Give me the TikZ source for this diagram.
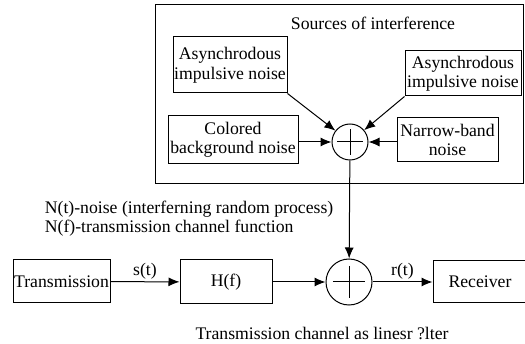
\documentclass[tikz,border=0pt]{standalone}
\usepackage{fontspec}
\setmainfont{Liberation Serif}
\usetikzlibrary{arrows.meta,calc,positioning}

\begin{document}
\begin{tikzpicture}[
    x=1pt, y=-1pt,
    >={Latex[length=11pt,width=9pt]},
    font=\fontsize{17.7}{19.5}\selectfont,
    every path/.style={line width=1pt},
    block/.style={
		rectangle,
		draw=black,
		align=center,
		inner sep=0pt
	},
    sum/.style={
		circle,
		draw=black,
		inner sep=0pt,
		path picture={
		  \draw ($(path picture bounding box.center)!.7!(path picture bounding box.west)$)
		     -- ($(path picture bounding box.center)!.7!(path picture bounding box.east)$);
		  \draw ($(path picture bounding box.center)!.7!(path picture bounding box.north)$)
		     -- ($(path picture bounding box.center)!.7!(path picture bounding box.south)$);
		}
	},
	label/.style={
		inner sep=2pt
	}
  ]
  \useasboundingbox (0,0) rectangle (525,344);

    % sources of interference
  \node [block, minimum width=368, minimum height=179] (sources) at (339,94.5) {};
  \node (title) at (373,23) {Sources of interference};

  \node [block, minimum width=114, minimum height=56] (async1) at (230,65)
  {Asynchrodous\\impulsive noise};
  \node [block, minimum width=116, minimum height=45] (async2) at (463,73.5)
  {Asynchrodous\\impulsive noise};
  \node [block, minimum width=130, minimum height=48] (colored) at (233,140)
  {Colored\\background noise};
  \node [block, minimum width=101, minimum height=44] (narrow) at (447.5,140)
  {Narrow-band\\noise};

  \node [sum, minimum size=36] (sum1) at (350,142) {};

    % channel
  \node [block, minimum width=97, minimum height=43] (trans) at (61.5,281.5) {Transmission};
  \node [block, minimum width=92, minimum height=44] (chan) at (226,282) {H(f)};
  \node [sum, minimum size=46] (sum2) at (349,282) {};
  \node [block, minimum width=94, minimum height=42] (recv) at (480,282) {Receiver};

  \node [align=left, anchor=west] (legend) at (41,218.5)
  {N(t)-noise (interferning random process)\\N(f)-transmission channel function};
  \node (caption) at (322,333) {Transmission channel as linesr ?lter};

 \draw [->] (async1.south east) -- (sum1);
 \draw [->] (async2.south west) -- (sum1);
 \draw [->] (colored.east |- sum1.west) -- (sum1.west);
 \draw [->] (narrow.west |- sum1.east) -- (sum1.east);
 \draw [->] (sum1) -- (sum2);
 \draw [->] (trans) -- node [label, above] {s(t)} (chan);
 \draw [->] (chan) -- (sum2);
 \draw [->] (sum2) -- node [label, above] {r(t)} (recv);

\end{tikzpicture}
\end{document}
